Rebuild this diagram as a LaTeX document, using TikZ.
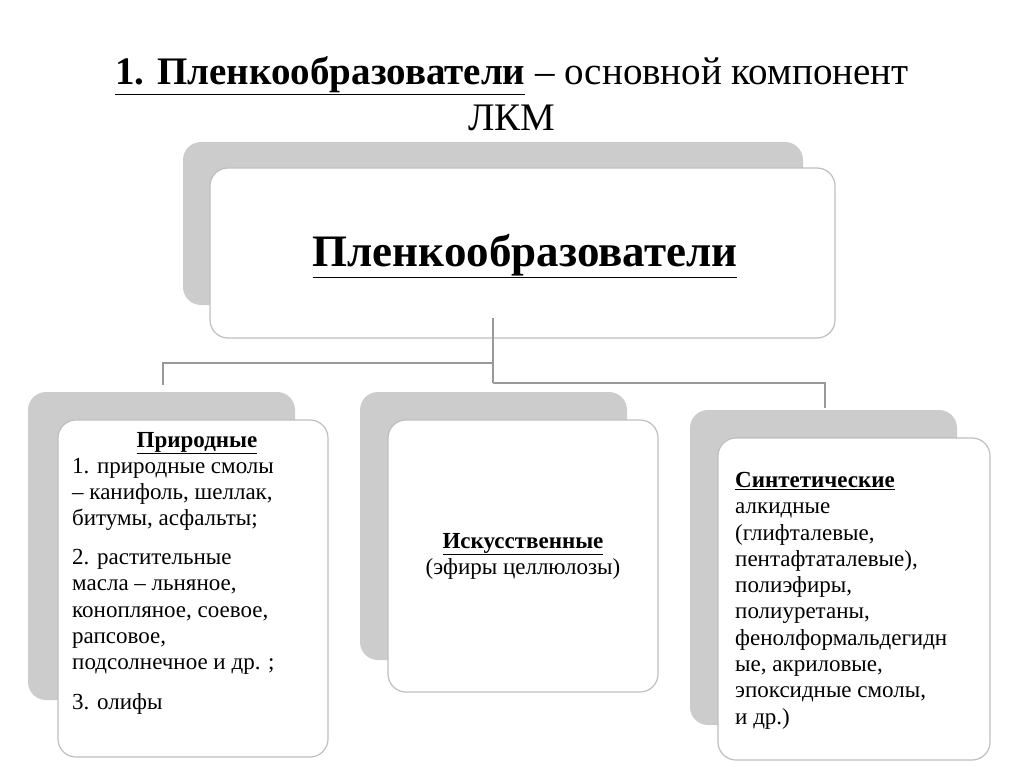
\documentclass[tikz,border=0pt]{standalone}
\usepackage{fontspec}
\setmainfont{Liberation Serif}
\begin{document}
\begin{tikzpicture}[x=1pt,y=-1pt,
  back/.style={fill=black!20,rounded corners=18pt},
  front/.style={draw=black!25,line width=1.2pt,fill=white,rounded corners=18pt},
  conn/.style={draw=black!40,line width=1.2pt},
  txt/.style={anchor=north west,align=left,font=\fontsize{23}{26.3}\selectfont,inner sep=0}]
\useasboundingbox (0,0) rectangle (1024,767);
\fill[white] (0,0) rectangle (1024,767);
\node (title) at (512,94) [align=center,font=\fontsize{39}{46}\selectfont] {\textbf{\underline{1. Пленкообразователи}} -- основной компонент\\ЛКМ};
% top
\fill[back] (183,142) rectangle (803,305);
\path[front] (210,168) rectangle (835,338);
\node (top) at (525,256) [font=\fontsize{45}{48}\selectfont\bfseries] {\underline{Пленкообразователи}};
% connectors
\coordinate (a) at (493,318);
\coordinate (b) at (493,363);
\coordinate (c) at (493,383);
\draw[conn] (a) -- (c);
\draw[conn] (b) -- (163,363) -- (163,385);
\draw[conn] (c) -- (825,383) -- (825,408);
% left
\fill[back] (28,392) rectangle (295,700);
\path[front] (58,420) rectangle (328,757);
\node (l1) at (197,443) [font=\fontsize{23}{26}\selectfont\bfseries] {\underline{Природные}};
\node (l2) at (72,458) [txt] {1. природные смолы\\– канифоль, шеллак,\\битумы,  асфальты;};
\node (l3) at (72,549) [txt] {2. растительные\\масла – льняное,\\конопляное, соевое,\\рапсовое,\\подсолнечное и др. ;};
\node (l4) at (72,693) [txt] {3. олифы};
% middle
\fill[back] (360,392) rectangle (627,660);
\path[front] (388,420) rectangle (658,692);
\node (m) at (523,556) [align=center,font=\fontsize{23}{26}\selectfont] {\textbf{\underline{Искусственные}}\\(эфиры целлюлозы)};
% right
\fill[back] (690,410) rectangle (957,725);
\path[front] (718,438) rectangle (990,760);
\node (r) at (735,472) [txt] {\textbf{\underline{Синтетические}}\\алкидные\\(глифталевые,\\пентафтаталевые),\\полиэфиры,\\полиуретаны,\\фенолформальдегидн\\ые, акриловые,\\эпоксидные смолы,\\и др.)};
\end{tikzpicture}
\end{document}
